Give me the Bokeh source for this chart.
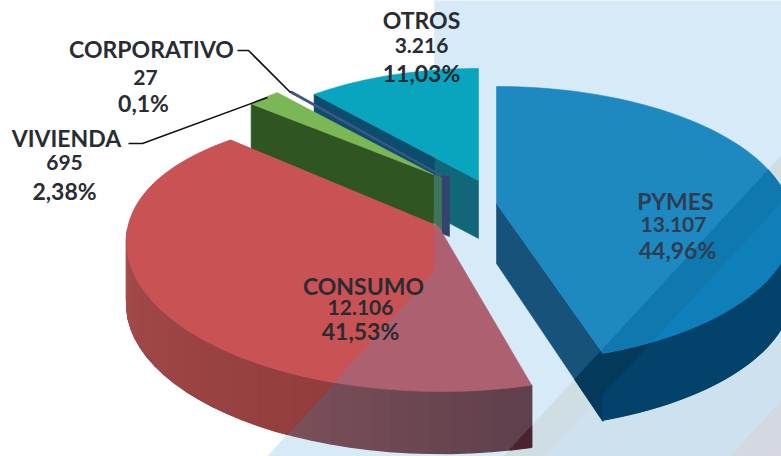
import math
from bokeh.plotting import figure
from bokeh.models import Range1d
from bokeh.core.properties import value
from bokeh.embed import file_html
from bokeh.resources import INLINE

# ---- data
categories = ["PYMES", "CONSUMO", "VIVIENDA", "CORPORATIVO", "OTROS"]
amounts = [13107, 12106, 695, 27, 3216]
amount_labels = ["13.107", "12.106", "695", "27", "3.216"]
percent_labels = ["44,96%", "41,53%", "2,38%", "0,1%", "11,03%"]

# ---- layout (page pixels): where each exploded slice sits in the 3D view
GEOM = {
    "PYMES":       dict(apex=(496, 203), centre=(496, 224), a=296, b=138, off=0.0, stretch=0.982, far=0.0),
    "CONSUMO":     dict(apex=(438, 226), centre=(441, 241), a=315, b=150, off=1.5, stretch=1.034, far=0.12),
    "VIVIENDA":    dict(apex=(433, 174), centre=(433, 174), a=243, b=107, off=0.0, stretch=1.0, far=0.0),
    "CORPORATIVO": dict(apex=(441, 175), centre=(441, 175), a=235, b=109, off=0.0, stretch=1.0, far=0.0),
    "OTROS":       dict(apex=(478, 180), centre=(478, 180), a=257, b=112, off=0.0, stretch=1.0, far=0.0),
}
EDGE1 = ((781, 155), (647, 300))
EDGE2 = ((781, 202), (690, 300))
DIAG = ((434, 270), (267, 456))
VERT = ((434, 0), (434, 270))

p = figure(width=781, height=456, x_range=Range1d(0, 781), y_range=Range1d(456, 0),
           output_backend="svg", toolbar_location=None, min_border=0,
           background_fill_color="white", border_fill_color="white", outline_line_color=None)
p.axis.visible = False
p.grid.visible = False


def fill(poly, color, lw=0.6):
    if len(poly) < 3:
        return
    p.patch([q[0] for q in poly], [q[1] for q in poly], fill_color=color,
            line_color=color, line_width=lw)


def clip(poly, edge, keep_ref):
    """Keep the part of poly on the same side of edge as keep_ref."""
    (x1, y1), (x2, y2) = edge
    side = lambda q: (x2 - x1) * (q[1] - y1) - (y2 - y1) * (q[0] - x1)
    s_ref = side(keep_ref)
    out = []
    for i in range(len(poly)):
        a, b = poly[i], poly[(i + 1) % len(poly)]
        sa, sb = side(a) * s_ref, side(b) * s_ref
        if sa >= 0:
            out.append(a)
        if sa * sb < 0:
            t = sa / (sa - sb)
            out.append((a[0] + t * (b[0] - a[0]), a[1] + t * (b[1] - a[1])))
    return out


def white_side(poly):
    return clip(clip(poly, VERT, (100, 100)), DIAG, (100, 100))


# ---- angles come from the values, clockwise from twelve o'clock
total = sum(amounts)
spans = {}
acc = 0.0
for c, v in zip(categories, amounts):
    spans[c] = (acc, acc + 360.0 * v / total)
    acc = spans[c][1]


def rim(cat, theta):
    g = GEOM[cat]
    s0 = spans[cat][0]
    t = math.radians(s0 + g["off"] + (theta - s0) * g["stretch"])
    ct = math.cos(t)
    return (g["centre"][0] + g["a"] * math.sin(t),
            g["centre"][1] - g["b"] * ct * (1 - g["far"] * max(ct, 0.0)))


def top_face(cat, n=80):
    s0, s1 = spans[cat]
    return [GEOM[cat]["apex"]] + [rim(cat, s0 + (s1 - s0) * i / n) for i in range(n + 1)]


def down(q, d):
    return (q[0], q[1] + d)


def lerp_hex(c0, c1, f):
    a = [int(c0[i:i + 2], 16) for i in (1, 3, 5)]
    b = [int(c1[i:i + 2], 16) for i in (1, 3, 5)]
    return "#%02x%02x%02x" % tuple(round(x + (y - x) * f) for x, y in zip(a, b))


# ---- paper background
fill([(434, 0), (781, 0), (781, 456), (267, 456), (434, 270)], "#d6ebf7")
fill([(781, 155), (781, 202), (545, 456), (503, 456)], "#cfdde5")
fill([(781, 202), (781, 456), (545, 456)], "#cee1ef")
fill([(781, 400), (781, 456), (730, 456)], "#d3d8e2")
fill([(781, 433), (781, 456), (763, 456)], "#d6d6e0")

# ---- OTROS
s0, s1 = spans["OTROS"]
ap = GEOM["OTROS"]["apex"]
wall = [rim("OTROS", s0), ap, down(ap, 58), down(rim("OTROS", s0), 58)]
fill(wall, "#12667a")
fill(clip(wall, VERT, (100, 100)), "#0c4c6c")
fill(top_face("OTROS"), "#09a5bf")

# ---- CORPORATIVO
ap = GEOM["CORPORATIVO"]["apex"]
fill([ap, (ap[0] + 8, ap[1] + 1), (ap[0] + 8, ap[1] + 61), (ap[0], ap[1] + 58)], "#33436e")
fill(top_face("CORPORATIVO"), "#3f5585", lw=2.0)

# ---- VIVIENDA
s0, s1 = spans["VIVIENDA"]
ap = GEOM["VIVIENDA"]["apex"]
fill([ap, (ap[0] + 8, ap[1] + 3), (ap[0] + 8, ap[1] + 56), (ap[0], ap[1] + 48)], "#3e7457")
fill([rim("VIVIENDA", s0), ap, down(ap, 52), down(rim("VIVIENDA", s0), 48)], "#2f5523")
fill(top_face("VIVIENDA"), "#7cb755")

# ---- CONSUMO: outer wall in shaded strips, tinted where the paper turns blue
s0, s1 = spans["CONSUMO"]
N = 30
last = 270.0
for i in range(N):
    th0 = s0 + (last - s0) * i / N
    th1 = s0 + (last - s0) * (i + 1) / N
    f = i / (N - 1)
    q0, q1 = rim("CONSUMO", th0), rim("CONSUMO", th1)
    quad = [q0, q1, down(q1, 62), down(q0, 62)]
    fill(quad, lerp_hex("#5f404c", "#7c5059", min(1.0, f * 2.4)), lw=1.4)
    fill(clip(quad, EDGE1, (781, 456)), "#4a2330", lw=0.8)
for i in range(N):
    th0 = s0 + (last - s0) * i / N
    th1 = s0 + (last - s0) * (i + 1) / N
    f = i / (N - 1)
    q0, q1 = rim("CONSUMO", th0), rim("CONSUMO", th1)
    quad = [q0, q1, down(q1, 62), down(q0, 62)]
    fill(white_side(quad), lerp_hex("#8a3535", "#a54c4c", f), lw=1.4)
rose = top_face("CONSUMO")
fill(rose, "#ad6170")
fill(white_side(rose), "#c95254")

# ---- PYMES
s0, s1 = spans["PYMES"]
ap = GEOM["PYMES"]["apex"]
end = rim("PYMES", s1)
cut = [ap, end, down(end, 68), down(ap, 60)]
fill(cut, "#17527a")
fill(clip(cut, EDGE1, (781, 456)), "#033a5c")
outer = [rim("PYMES", 85 + (s1 - 85) * i / 60) for i in range(61)]
outer_wall = outer + [down(q, 67) for q in reversed(outer)]
fill(outer_wall, "#033a5c")
fill(clip(outer_wall, EDGE2, (781, 456)), "#03426b")
top = top_face("PYMES")
fill(top, "#1e88c0")
fill(clip(top, EDGE1, (781, 456)), "#0f78ae")
fill(clip(top, EDGE2, (781, 456)), "#0e7fb9")

# ---- leader lines
p.line([237, 248, 290], [50, 50, 92], line_color="#111111", line_width=1.6)
p.line([128, 142, 267], [143, 143, 97], line_color="#111111", line_width=1.6)

# ---- labels
INK = "#2a2c33"
LABELS = {
    "OTROS":       dict(x=(421, 421, 421), y=(19, 45, 72), color=INK),
    "CORPORATIVO": dict(x=(151, 145, 143), y=(48, 77, 102), color=INK),
    "VIVIENDA":    dict(x=(66, 64, 64), y=(137, 162, 190), color=INK),
    "PYMES":       dict(x=(675, 673, 677), y=(200, 224, 249), color="#2e3d52"),
    "CONSUMO":     dict(x=(363, 360, 360), y=(285, 307, 330), color=INK),
}
for c, am, pc in zip(categories, amount_labels, percent_labels):
    L = LABELS[c]
    for x, y, t, size in zip(L["x"], L["y"], (c, am, pc), ("23px", "21px", "23px")):
        p.text([x], [y], text=[t], text_font=value("Lato"), text_font_style="bold",
               text_font_size=size, text_color=L["color"],
               text_align="center", text_baseline="middle")

open("out.html", "w").write(file_html(p, INLINE))
